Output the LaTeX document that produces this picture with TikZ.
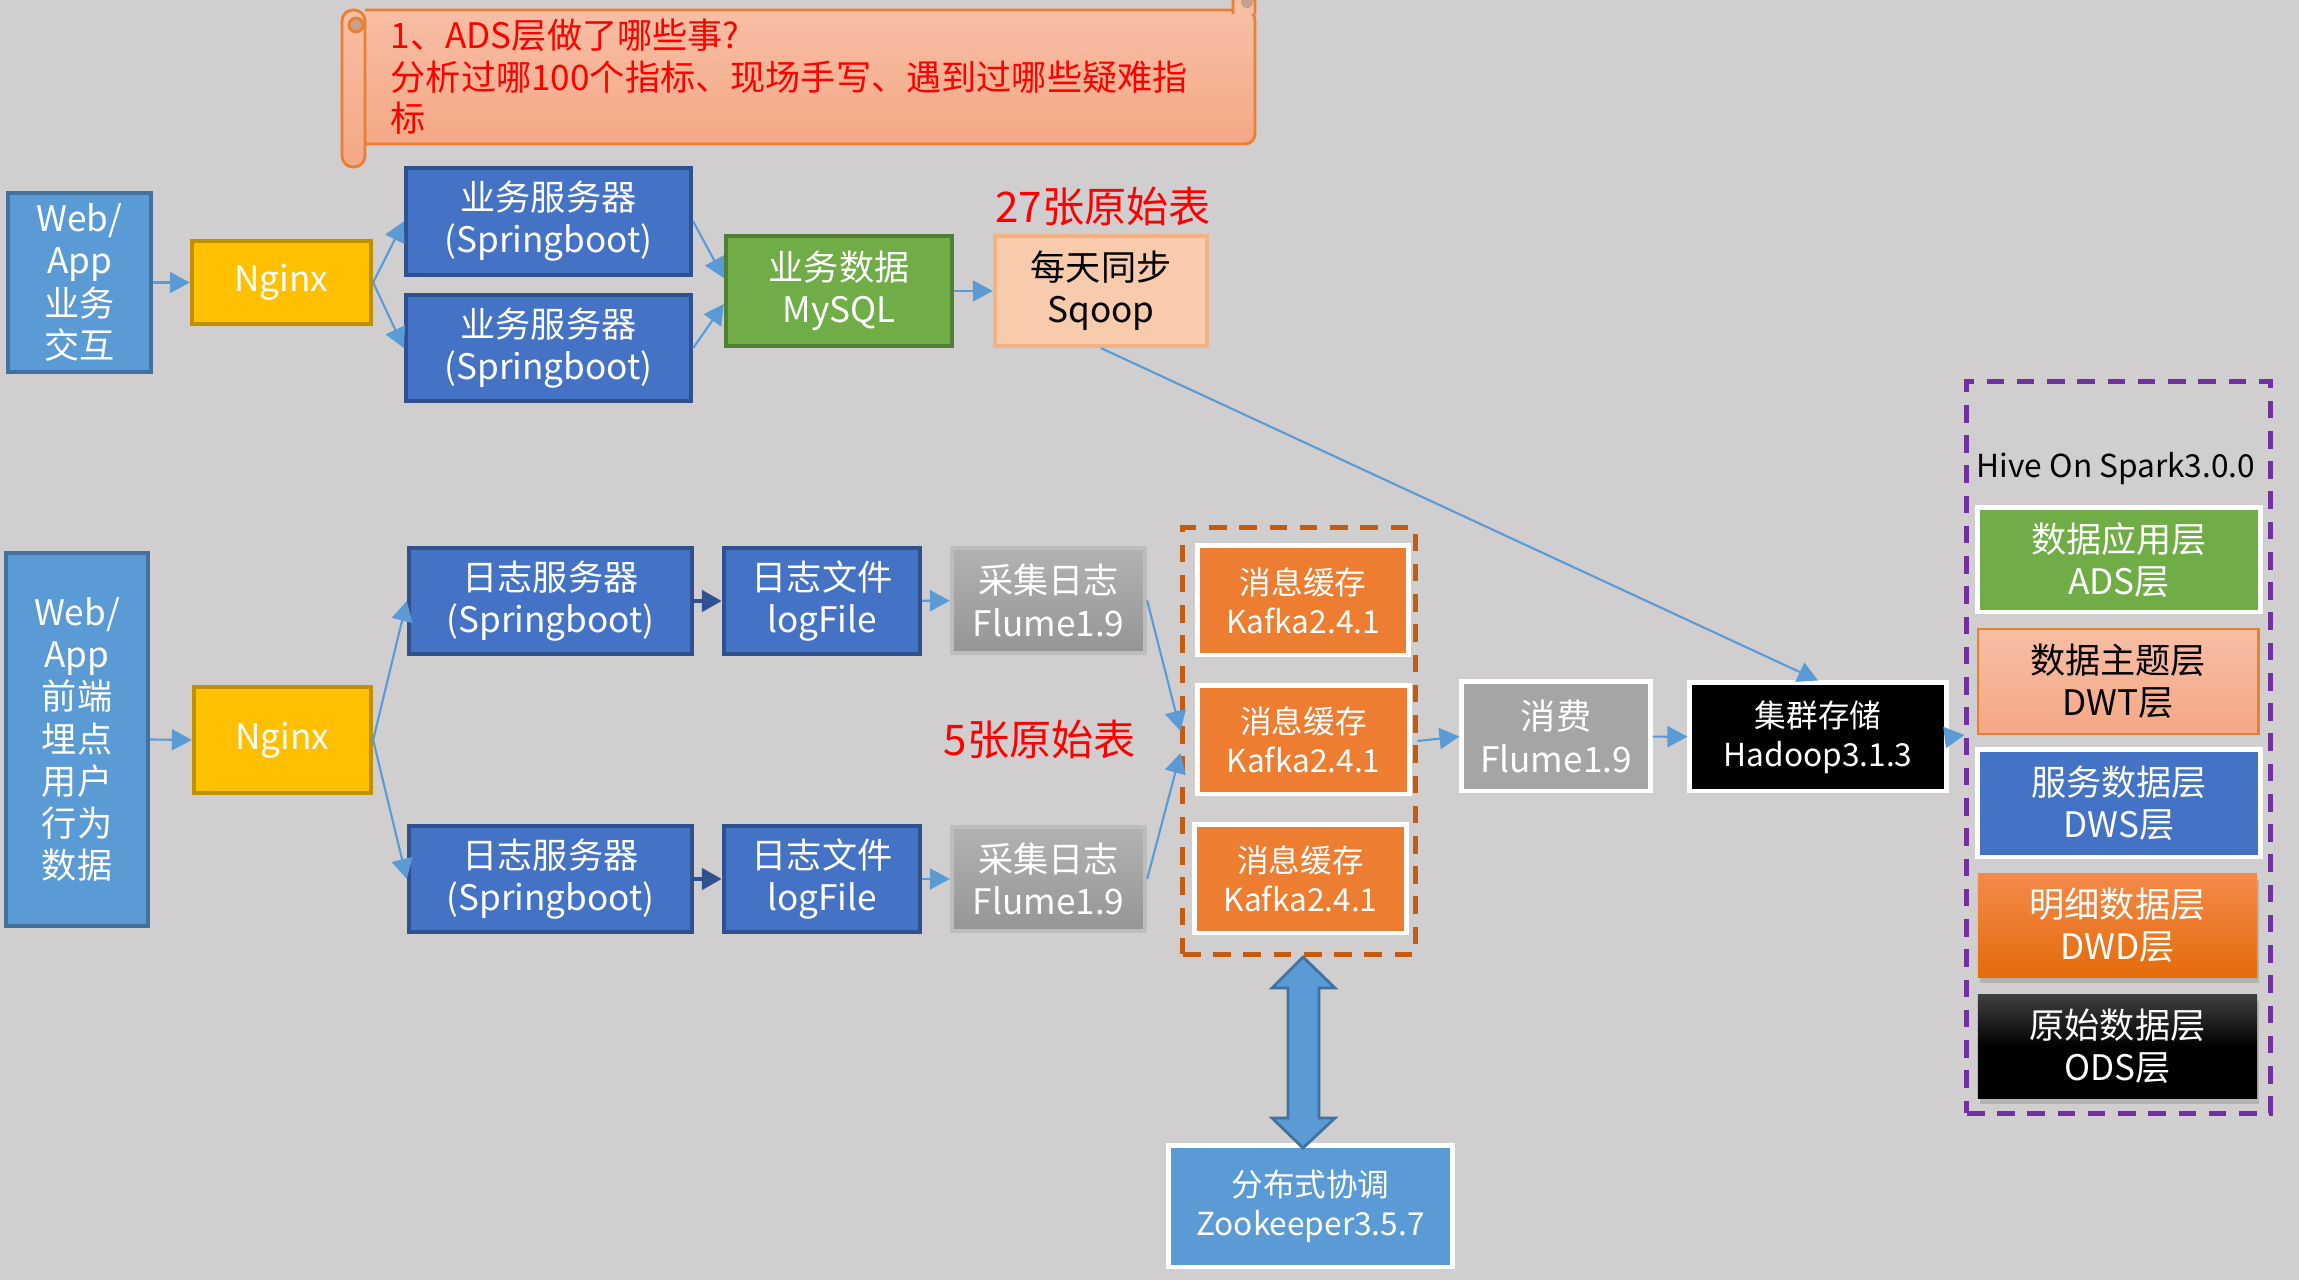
\documentclass[tikz,border=0pt]{standalone}
\usepackage{fontspec}
\setmainfont{Noto Sans CJK SC}
\usetikzlibrary{arrows.meta,shadows}
\definecolor{bgc}{HTML}{D0CECE}
\definecolor{lblue}{HTML}{5B9BD5}
\definecolor{lbluedk}{HTML}{41719C}
\definecolor{mblue}{HTML}{4472C4}
\definecolor{mbluedk}{HTML}{2F528F}
\definecolor{ngx}{HTML}{FFC000}
\definecolor{ngxdk}{HTML}{BF9000}
\definecolor{grn}{HTML}{70AD47}
\definecolor{grndk}{HTML}{507E32}
\definecolor{peach}{HTML}{F8CBAD}
\definecolor{peachdk}{HTML}{F4B183}
\definecolor{org}{HTML}{ED7D31}
\definecolor{orgdk}{HTML}{C55A11}
\definecolor{salmtop}{HTML}{F8BEA4}
\definecolor{salmbot}{HTML}{F4A886}
\definecolor{curl}{HTML}{C9A08C}
\definecolor{gryA}{HTML}{B2B2B2}
\definecolor{gryB}{HTML}{959595}
\definecolor{gryL}{HTML}{BDBDBD}
\definecolor{gryC}{HTML}{A5A5A5}
\definecolor{purp}{HTML}{7030A0}
\definecolor{dwdtop}{HTML}{F4894A}
\definecolor{dwdbot}{HTML}{E36C0A}
\definecolor{odstop}{HTML}{404040}

\begin{document}
\begin{tikzpicture}[x=0.01cm,y=-0.01cm,>={Triangle[length=0.2cm,width=0.21cm]},
  box/.style={draw,line width=1.2pt,inner sep=0pt,align=center,text=white,font=\fontsize{10}{12}\selectfont},
  wbox/.style={box,draw=white,line width=1.4pt},
  small/.style={font=\fontsize{9}{11}\selectfont},
  sz/.style 2 args={minimum width=#1cm,minimum height=#2cm},
  frame/.style={draw=#1,line width=1.4pt,dash pattern=on 5pt off 3.6pt},
  lnk/.style={->,lblue,line width=0.6pt},
  dlnk/.style={->,mbluedk,line width=1.4pt},
  shd/.style={drop shadow={opacity=0.35,shadow xshift=0.02cm,shadow yshift=-0.06cm}}]
\useasboundingbox (0,0) rectangle (2299,1280);
\fill[bgc] (0,0) rectangle (2299,1280);

\draw[org,line width=0.8pt,top color=salmtop,bottom color=salmbot,rounded corners=0.1cm] (365,10) -- (1255,10) -- (1255,144) -- (365,144);
\draw[org,line width=0.8pt,fill=salmtop,rounded corners=0.05cm] (1233,14) -- (1233,-4) -- (1255,-4) -- (1255,14);
\fill[curl] (1247,2) circle[radius=0.06cm];
\draw[org,line width=0.8pt,top color=salmtop,bottom color=salmbot,rounded corners=0.11cm] (342,10) rectangle (365,167);
\draw[org,line width=0.8pt,fill=curl] (356,25) circle[radius=0.07cm];
\node[anchor=west,align=left,inner sep=0pt,text=red,font=\fontsize{10}{11.8}\selectfont] (note) at (390,77) {1、ADS层做了哪些事?\\分析过哪100个指标、现场手写、遇到过哪些疑难指\\标};

\node[box,fill=lblue,draw=lbluedk,sz={1.43}{1.79}] (webA) at (79.5,282.5) {Web/\\App\\业务\\交互};
\node[box,fill=ngx,draw=ngxdk,sz={1.79}{0.83}] (ngxA) at (281.5,282.5) {Nginx};
\node[box,fill=mblue,draw=mbluedk,sz={2.85}{1.07}] (srvA) at (548.5,221.5) {业务服务器\\(Springboot)};
\node[box,fill=mblue,draw=mbluedk,sz={2.85}{1.06}] (srvB) at (548.5,348) {业务服务器\\(Springboot)};
\node[box,fill=grn,draw=grndk,sz={2.26}{1.10}] (mysql) at (839,291) {业务数据\\MySQL};
\node[box,fill=peach,draw=peachdk,text=black,sz={2.12}{1.10}] (sqoop) at (1101,291) {每天同步\\Sqoop};
\node[text=red,font=\fontsize{12}{14}\selectfont] (tabA) at (1103,207) {27张原始表};

\node[box,fill=lblue,draw=lbluedk,sz={1.42}{3.73}] (webB) at (77,739.5) {Web/\\App\\前端\\埋点\\用户\\行为\\数据};
\node[box,fill=ngx,draw=ngxdk,sz={1.77}{1.06}] (ngxB) at (282.5,740) {Nginx};
\node[box,fill=mblue,draw=mbluedk,sz={2.83}{1.06}] (logA) at (550.5,601) {日志服务器\\(Springboot)};
\node[box,fill=mblue,draw=mbluedk,sz={2.83}{1.06}] (logB) at (550.5,879) {日志服务器\\(Springboot)};
\node[box,fill=mblue,draw=mbluedk,sz={1.96}{1.06}] (fileA) at (822,601) {日志文件\\logFile};
\node[box,fill=mblue,draw=mbluedk,sz={1.96}{1.06}] (fileB) at (822,879) {日志文件\\logFile};
\node[box,top color=gryA,bottom color=gryB,draw=gryL,sz={1.93}{1.05}] (flmA) at (1048.5,600.5) {采集日志\\Flume1.9};
\node[box,top color=gryA,bottom color=gryB,draw=gryL,sz={1.93}{1.04}] (flmB) at (1048.5,879) {采集日志\\Flume1.9};
\node[text=red,font=\fontsize{12}{14}\selectfont] (tabB) at (1040,740) {5张原始表};

\node[frame=orgdk,sz={2.32}{4.26}] (kfkbox) at (1299,741) {};
\node[wbox,small,fill=org,sz={2.10}{1.09}] (kfkA) at (1303,600.5) {消息缓存\\Kafka2.4.1};
\node[wbox,small,fill=org,sz={2.11}{1.08}] (kfkB) at (1303.5,740) {消息缓存\\Kafka2.4.1};
\node[wbox,small,fill=org,sz={2.11}{1.08}] (kfkC) at (1300.5,879) {消息缓存\\Kafka2.4.1};
\node[wbox,fill=gryC,sz={1.88}{1.09}] (flmC) at (1556,736.5) {消费\\Flume1.9};
\node[wbox,small,fill=black,sz={2.56}{1.08}] (hdfs) at (1818,737) {集群存储\\Hadoop3.1.3};
\node[wbox,small,fill=lblue,sz={2.83}{1.21}] (zk) at (1310.5,1206.5) {分布式协调\\Zookeeper3.5.7};

\node[frame=purp,sz={3.03}{7.31}] (hivebox) at (2118.5,747.5) {};
\node[small] (hive) at (2116,469) {Hive On Spark3.0.0};
\node[wbox,fill=grn,sz={2.82}{1.04}] (ads) at (2119,560) {数据应用层\\ADS层};
\node[box,top color=salmtop,bottom color=salmbot,draw=org,line width=0.8pt,text=black,sz={2.80}{1.05}] (dwt) at (2118,681.5) {数据主题层\\DWT层};
\node[wbox,fill=mblue,sz={2.82}{1.07}] (dws) at (2119,803.5) {服务数据层\\DWS层};
\node[box,draw=none,shd,top color=dwdtop,bottom color=dwdbot,sz={2.79}{1.03}] (dwd) at (2117.5,925.5) {明细数据层\\DWD层};
\node[box,draw=none,shd,top color=odstop,bottom color=black,middle color=black,sz={2.79}{1.03}] (ods) at (2117.5,1046.5) {原始数据层\\ODS层};

\draw[lnk] (webA.east) -- (ngxA.west);
\draw[lnk] (ngxA.east) -- (srvA.west);
\draw[lnk] (ngxA.east) -- (srvB.west);
\draw[lnk] (srvA.east) -- ([yshift=0.13cm]mysql.west);
\draw[lnk] (srvB.east) -- ([yshift=-0.13cm]mysql.west);
\draw[lnk] (mysql) -- (sqoop);
\draw[lnk] (sqoop.south) -- (hdfs.north);
\draw[lnk] (webB.east) -- (ngxB.west);
\draw[lnk] (ngxB.east) -- (logA.west);
\draw[lnk] (ngxB.east) -- (logB.west);
\draw[dlnk] (logA) -- (fileA);
\draw[dlnk] (logB) -- (fileB);
\draw[lnk] (fileA) -- (flmA);
\draw[lnk] (fileB) -- (flmB);
\draw[lnk] (flmA.east) -- ([yshift=0.1cm]kfkbox.west);
\draw[lnk] (flmB.east) -- ([yshift=-0.12cm]kfkbox.west);
\draw[lnk] (kfkbox.east) -- (flmC.west);
\draw[lnk] (flmC) -- (hdfs);
\draw[lnk] (hdfs.east) -- ([yshift=0.125cm]hivebox.west);
\draw[fill=lblue,draw=lbluedk,line width=0.8pt] (1303,957) -- (1335,988) -- (1319,988) -- (1319,1118) -- (1335,1118) -- (1303,1148) -- (1272,1118) -- (1288,1118) -- (1288,988) -- (1272,988) -- cycle;
\end{tikzpicture}
\end{document}
